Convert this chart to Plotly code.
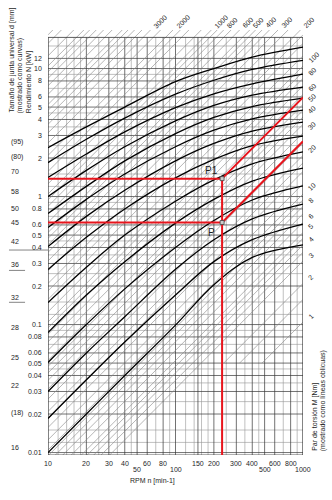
import numpy as np
import plotly.graph_objects as go

# ---- chart data -------------------------------------------------------
# speed samples where each joint-size curve was read (min-1)
curve_rpm = [10, 20, 40, 100, 200, 400, 1000]

# power N [kW] along each joint-size curve (d in mm)
joint_labels = ["16", "(18)", "22", "25", "28", "32", "36", "42", "45", "50", "58", "70", "(80)", "(95)"]
power_16 = [0.01, 0.02, 0.04, 0.099, 0.205, 0.335, 0.42]
power_18 = [0.01845, 0.037, 0.073, 0.17, 0.31, 0.46, 0.609]
power_22 = [0.030, 0.060, 0.115, 0.27, 0.46, 0.67, 0.874]
power_25 = [0.0505, 0.10, 0.19, 0.40, 0.65, 0.94, 1.21]
power_28 = [0.0866, 0.17, 0.31, 0.62, 0.95, 1.32, 1.67]
power_32 = [0.1485, 0.28, 0.50, 0.92, 1.35, 1.80, 2.23]
power_36 = [0.269, 0.48, 0.80, 1.40, 1.95, 2.50, 2.97]
power_42 = [0.407, 0.70, 1.12, 1.90, 2.60, 3.25, 3.82]
power_45 = [0.573, 0.95, 1.50, 2.45, 3.30, 4.05, 4.74]
power_50 = [0.736, 1.20, 1.90, 3.10, 4.15, 5.05, 5.88]
power_58 = [1.0, 1.60, 2.45, 3.90, 5.15, 6.20, 7.17]
power_70 = [1.41, 2.15, 3.20, 4.95, 6.35, 7.60, 9.06]
power_80 = [1.84, 2.80, 4.10, 6.30, 8.10, 9.85, 11.6]
power_95 = [2.41, 3.50, 5.00, 7.90, 10.0, 12.3, 14.7]
joint_curves = [power_16, power_18, power_22, power_25, power_28, power_32, power_36,
                power_42, power_45, power_50, power_58, power_70, power_80, power_95]
# joint-size labels whose leader line runs all the way to the axis
full_leaders = ["(95)", "36", "32", "28"]

# torque lines M [Nm] (N = M * n / 9550)
torque_lines = [1, 1.5, 2, 3, 3.5, 4, 4.5, 5, 6, 7, 8, 9,
                10, 12, 15, 17.5, 20, 25, 30, 35, 40, 45, 50, 60, 70, 80, 90,
                100, 120, 150, 175, 200, 250, 300, 350, 400, 450, 500, 600, 700, 800, 900,
                1000, 1200, 1500, 1750, 2000, 2500, 3000, 3500, 4000, 4500, 5000, 6000,
                7000, 8000, 9000, 10000, 12000, 15000, 17500]
short_torque_lines = [1, 1.5, 2]          # these stop at N = 0.05 kW
short_line_floor = 0.05
top_torque_labels = [200, 300, 400, 500, 600, 800, 1000, 2000, 3000]
right_torque_labels = [1, 2, 3, 4, 5, 6, 8, 10, 20, 30, 40, 50, 60, 80, 100]

# axis ticks and grid
rpm_ticks_upper = [10, 20, 30, 40, 60, 80, 150, 200, 300, 400, 600, 800]
rpm_ticks_lower = [50, 100, 500, 1000]
rpm_grid_major = [10, 20, 30, 40, 50, 60, 80, 100, 150, 200, 300, 400, 500, 600, 800, 1000]
rpm_grid_minor = [12, 14, 16, 18, 25, 35, 45, 70, 90, 120, 140, 160, 180, 250, 350, 450, 700, 900]
power_ticks = [0.01, 0.02, 0.03, 0.04, 0.05, 0.06, 0.08, 0.1, 0.2, 0.3, 0.4, 0.5, 0.6, 0.8,
               1, 2, 3, 4, 5, 6, 8, 10, 12]
power_tick_text = ["0.01", "0.02", "0.03", "0.04", "0.05", "0.06", "0.08", "0.1", "0.2", "0.3",
                   "0.4", "0.5", "0.6", "0.8", "1", "2", "3", "4", "5", "6", "8", "10", "12"]
power_grid_minor = [0.012, 0.015, 0.025, 0.035, 0.045, 0.07, 0.09,
                    0.12, 0.15, 0.25, 0.35, 0.45, 0.7, 0.9,
                    1.2, 1.5, 2.5, 3.5, 4.5, 7, 9, 15]

# worked example: operating speed and the two read-off points
example_rpm = 232
example_p1 = 1.38
example_p = 0.627

# frame limits
rpm_min, rpm_max = 10, 1000
power_min, power_box_top, power_axis_top = 0.00957, 17.5, 20.0

FONT = "Liberation Sans, Arial, sans-serif"
TXT = "#1e1e1e"

fig = go.Figure()


def seg_trace(segs, color, width):
    xs, ys = [], []
    for (x0, y0), (x1, y1) in segs:
        xs += [x0, x1, None]
        ys += [y0, y1, None]
    return go.Scatter(x=xs, y=ys, mode="lines", line=dict(color=color, width=width),
                      hoverinfo="skip", showlegend=False)


# grid
fig.add_trace(seg_trace([((v, power_min), (v, power_box_top)) for v in rpm_grid_minor], "#959595", 0.6))
fig.add_trace(seg_trace([((rpm_min, v), (rpm_max, v)) for v in power_grid_minor], "#959595", 0.6))
fig.add_trace(seg_trace([((v, power_min), (v, power_box_top)) for v in rpm_grid_major], "#353535", 0.7))
fig.add_trace(seg_trace([((rpm_min, v), (rpm_max, v)) for v in power_ticks], "#353535", 0.7))

# torque lines
diag = []
for m in torque_lines:
    floor = short_line_floor if m in short_torque_lines else power_min
    n0 = max(rpm_min, floor * 9550 / m)
    n1 = min(rpm_max, power_axis_top * 9550 / m)
    if n1 <= n0:
        continue
    diag.append(((n0, m * n0 / 9550), (n1, m * n1 / 9550)))
fig.add_trace(seg_trace(diag, "#858585", 0.6))

# frame
fig.add_trace(go.Scatter(x=[rpm_min, rpm_max, rpm_max, rpm_min, rpm_min],
                         y=[power_min, power_min, power_box_top, power_box_top, power_min],
                         mode="lines", line=dict(color="#353535", width=0.8),
                         hoverinfo="skip", showlegend=False))

# joint-size curves
for vals in joint_curves:
    fig.add_trace(go.Scatter(x=curve_rpm, y=vals, mode="lines",
                             line=dict(color="black", width=1.3, shape="spline", smoothing=1.0),
                             hoverinfo="skip", showlegend=False))

# worked example in red
m_p1 = example_p1 * 9550 / example_rpm
m_p = example_p * 9550 / example_rpm
red = dict(color="#e8141c", width=2)
fig.add_trace(go.Scatter(x=[rpm_min, example_rpm, example_rpm], y=[example_p1, example_p1, power_min],
                         mode="lines", line=red, hoverinfo="skip", showlegend=False))
fig.add_trace(go.Scatter(x=[rpm_min, example_rpm], y=[example_p, example_p],
                         mode="lines", line=red, hoverinfo="skip", showlegend=False))
fig.add_trace(go.Scatter(x=[example_rpm, rpm_max], y=[example_p1, m_p1 * rpm_max / 9550],
                         mode="lines", line=red, hoverinfo="skip", showlegend=False))
fig.add_trace(go.Scatter(x=[example_rpm, rpm_max], y=[example_p, m_p * rpm_max / 9550],
                         mode="lines", line=red, hoverinfo="skip", showlegend=False))
fig.add_trace(go.Scatter(x=[example_rpm, example_rpm], y=[example_p1, example_p], mode="markers",
                         marker=dict(symbol="square", size=4, color="#cccccc",
                                     line=dict(color="#444444", width=0.8)),
                         hoverinfo="skip", showlegend=False))

L = np.log10
ann = []


def text(x, y, s, size=7, **kw):
    d = dict(x=x, y=y, text=s, showarrow=False, font=dict(family=FONT, size=size, color=TXT))
    d.update(kw)
    ann.append(d)


# example point labels
text(L(example_rpm), L(example_p1), "P1", size=10, xanchor="right", yanchor="bottom", xshift=-2, yshift=1)
text(L(example_rpm), L(example_p), "P", size=10, xanchor="right", yanchor="top", xshift=-5, yshift=-3)

# rpm tick labels (two staggered rows)
for v in rpm_ticks_upper:
    text(L(v), -0.008, str(v), xref="x", yref="paper", yanchor="top")
for v in rpm_ticks_lower:
    text(L(v), -0.022, str(v), xref="x", yref="paper", yanchor="top")
text(0.41, -0.060, "RPM n [min-1]", xref="paper", yref="paper", yanchor="middle")

# power tick labels
for v, s in zip(power_ticks, power_tick_text):
    text(-0.015, L(v), s, xref="paper", yref="y", xanchor="right", yanchor="middle")

# joint-size labels with leader lines
shapes = []
for lab, vals in zip(joint_labels, joint_curves):
    y0 = L(vals[0])
    text(-0.153, y0, lab, xref="paper", yref="y", xanchor="left", yanchor="bottom", yshift=0)
    x_end = 0.0 if lab in full_leaders else -0.09
    shapes.append(dict(type="line", xref="paper", yref="y", x0=-0.153, x1=x_end, y0=y0, y1=y0,
                       line=dict(color="#666666", width=0.8)))

# torque labels
for m in top_torque_labels:
    n_end = power_axis_top * 9550 / m
    text(L(n_end), L(power_axis_top), str(m), textangle=-45, xanchor="left", yanchor="bottom",
         xshift=-1, yshift=-2)
for m in right_torque_labels:
    text(L(rpm_max), L(m * rpm_max / 9550), str(m), textangle=-45, xanchor="left", yanchor="bottom",
         xshift=1, yshift=-1)

# axis titles
text(-0.141, 0.80, "Tamaño de junta universal d [mm]", xref="paper", yref="paper",
     textangle=-90, yanchor="bottom", xanchor="center")
text(-0.106, 0.80, "(mostrado como curvas)", xref="paper", yref="paper",
     textangle=-90, yanchor="bottom", xanchor="center")
text(-0.074, 0.80, "Rendimiento N [kW]", xref="paper", yref="paper",
     textangle=-90, yanchor="bottom", xanchor="center")
text(1.047, 0.005, "Par de torsión M [Nm]", xref="paper", yref="paper",
     textangle=-90, yanchor="bottom", xanchor="center")
text(1.078, 0.005, "(mostrado como líneas oblicuas)", xref="paper", yref="paper",
     textangle=-90, yanchor="bottom", xanchor="center")

fig.update_layout(
    width=332, height=500,
    margin=dict(l=48, r=29, t=30, b=45),
    paper_bgcolor="white", plot_bgcolor="white",
    xaxis=dict(type="log", range=[L(rpm_min), L(rpm_max)], showgrid=False, zeroline=False,
               showticklabels=False, ticks=""),
    yaxis=dict(type="log", range=[L(power_min), L(power_axis_top)], showgrid=False, zeroline=False,
               showticklabels=False, ticks=""),
    annotations=ann, shapes=shapes,
)

fig.write_html("out.html")
